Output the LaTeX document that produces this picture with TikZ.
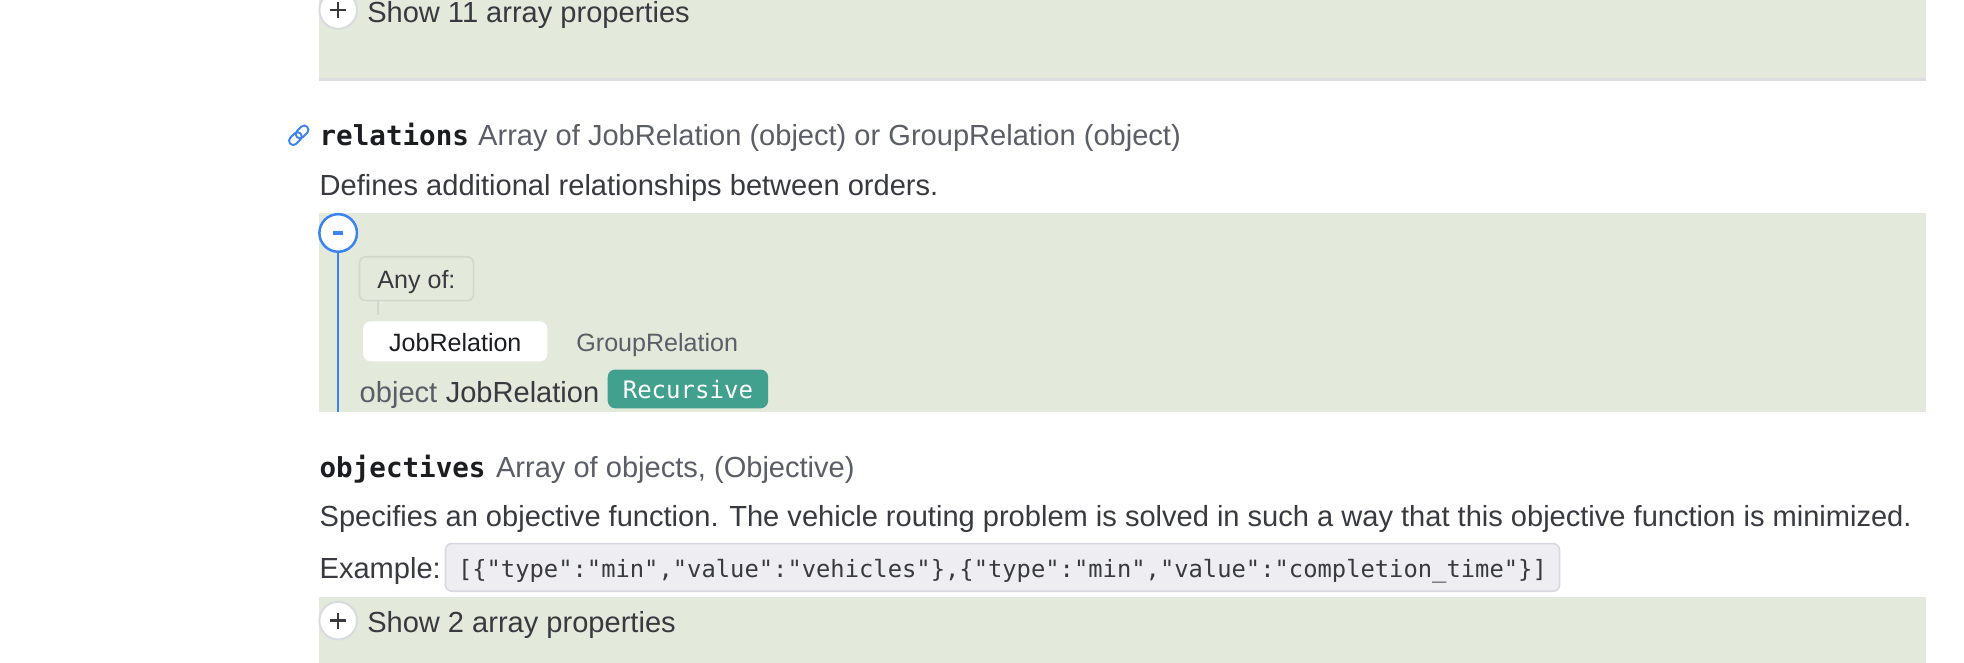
\documentclass[tikz,border=0pt]{standalone}
\usepackage{fontspec}
\setmainfont{Liberation Sans}
\newfontfamily\monof{DejaVu Sans Mono}
\definecolor{panel}{HTML}{E3E9DB}
\definecolor{rulegray}{HTML}{DCDCE3}
\definecolor{linkblue}{HTML}{3B82F6}
\definecolor{badge}{HTML}{42A08F}
\definecolor{txtdark}{HTML}{1C1D21}
\definecolor{txtmain}{HTML}{383A40}
\definecolor{txtgray}{HTML}{5B5E66}
\definecolor{codebg}{HTML}{EEEEF2}
\definecolor{codeborder}{HTML}{D8D8E0}
\definecolor{anyborder}{HTML}{D3D8CD}
\definecolor{circborder}{HTML}{D9D9E0}
\tikzset{
  txt/.style={anchor=west, inner sep=0pt, font=\fontsize{23.2}{28}\selectfont, text=txtmain, text height=19pt, text depth=1pt},
  graytxt/.style={txt, text=txtgray},
  smalltxt/.style={inner sep=0pt, font=\fontsize{20}{24}\selectfont, text height=16pt, text depth=0pt},
  propname/.style={anchor=west, inner sep=0pt, font=\monof\bfseries\fontsize{22}{26}\selectfont, text=txtdark, text height=19pt, text depth=1pt},
  togglecirc/.style={circle, fill=white, draw=circborder, line width=1.5pt, minimum size=30pt, inner sep=0pt},
  plusline/.style={draw=txtmain, line width=2pt},
}
\begin{document}
\begin{tikzpicture}[x=1pt, y=-1pt]
\useasboundingbox (0,0) rectangle (1568,529);
\clip (0,0) rectangle (1568,529);
\fill[white] (0,0) rectangle (1568,529);
% panels
\fill[panel] (255,-2) rectangle (1538,62);
\fill[rulegray] (255,62) rectangle (1538,64.5);
\fill[panel] (255,170) rectangle (1538,328.6);
\fill[panel] (255,477) rectangle (1538,531);

% top toggle
\node[togglecirc] (plusA) at (270,8) {};
\draw[plusline] ([xshift=-6.5pt]plusA.center) -- ([xshift=6.5pt]plusA.center);
\draw[plusline] ([yshift=-6.5pt]plusA.center) -- ([yshift=6.5pt]plusA.center);
\node[txt] (showA) at (293,9) {Show 11 array properties};

% link icon
\coordinate (linkicon) at (238.5,108);
\begin{scope}[shift={(linkicon)}, rotate=45, line width=1.5pt]
  \draw[linkblue, rounded corners=3.2pt] (-9.5,-3.4) rectangle (2,3.4);
  \draw[linkblue, rounded corners=3.2pt] (-2,-3.4) rectangle (9.5,3.4);
\end{scope}

% relations
\node[propname] (relname) at (255,107) {relations};
\node[graytxt] (reltype) at ([xshift=7pt]relname.east) {Array of JobRelation (object) or GroupRelation (object)};
\node[txt] (reldesc) at (255,147) {Defines additional relationships between orders.};

% minus toggle and line
\node[circle, fill=white, draw=linkblue, line width=2pt, minimum size=30pt, inner sep=0pt] (minus) at (270,186) {};
\draw[linkblue, line width=2.5pt] ([xshift=-4pt]minus.center) -- ([xshift=4pt]minus.center);
\coordinate (lineend) at (270,328.6);
\draw[linkblue, line width=2pt] (minus.south) -- (lineend);

% any of
\node[smalltxt, draw=anyborder, line width=1.3pt, rounded corners=5pt, minimum width=91pt, minimum height=35pt, text=txtmain] (anyof) at (332.5,222.5) {Any of:};
\coordinate (anyconn) at (302,251.5);
\draw[anyborder, line width=1.3pt] (anyof.south -| anyconn) -- (anyconn);

% tabs
\node[smalltxt, fill=white, rounded corners=6pt, minimum width=147pt, minimum height=32pt, text=txtdark] (jobtab) at (363.5,272.5) {JobRelation};
\node[smalltxt, text=txtgray, anchor=west] (grouptab) at (460,273) {GroupRelation};

% object JobRelation + badge
\node[graytxt] (objword) at (287,312) {object};
\node[txt] (objname) at ([xshift=6.4pt]objword.east) {JobRelation};
\node[anchor=west, fill=badge, rounded corners=6pt, minimum height=31pt, inner xsep=12pt, inner ysep=0pt, text=white, font=\monof\fontsize{19.2}{23}\selectfont, text height=16pt, text depth=0pt] (recursive) at (485,310.5) {Recursive};

% objectives
\node[propname] (objname2) at (255,372) {objectives};
\node[graytxt] (objtype) at ([xshift=8pt]objname2.east) {Array of objects, (Objective)};
\node[txt] (objdesc) at (255,411) {Specifies an objective function. The vehicle routing problem is solved in such a way that this objective function is minimized.};
\node[txt] (example) at (255,453) {Example:};
\node[anchor=west, fill=codebg, draw=codeborder, line width=1.3pt, rounded corners=5pt, minimum height=38pt, inner xsep=10pt, inner ysep=0pt, text=txtmain, font=\monof\fontsize{19}{23}\selectfont, text height=16pt, text depth=0pt] (code) at (355,453) {[\{"type":"min","value":"vehicles"\},\{"type":"min","value":"completion\_time"\}]};

% bottom toggle
\node[togglecirc] (plusB) at (270,495.5) {};
\draw[plusline] ([xshift=-6.5pt]plusB.center) -- ([xshift=6.5pt]plusB.center);
\draw[plusline] ([yshift=-6.5pt]plusB.center) -- ([yshift=6.5pt]plusB.center);
\node[txt] (showB) at (293,496) {Show 2 array properties};
\end{tikzpicture}
\end{document}
